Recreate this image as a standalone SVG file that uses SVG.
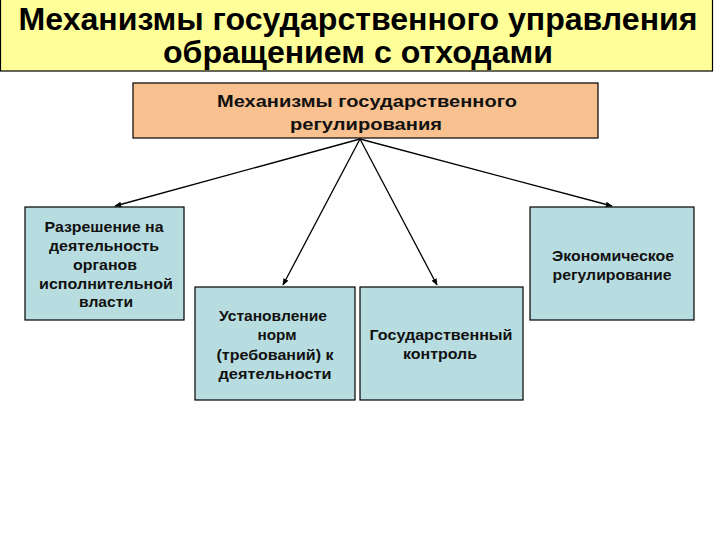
<svg xmlns="http://www.w3.org/2000/svg" width="720" height="540" viewBox="0 0 720 540">
<defs>
<style>
.box{fill:#B8DDE0;stroke:#000;stroke-width:1.2}
.t{font-family:"Liberation Sans",Arial,sans-serif;font-weight:bold;font-size:15px;fill:#111;text-anchor:middle}
.r{font-size:17px}
.ttl{font-family:"Liberation Sans",Arial,sans-serif;font-weight:bold;font-size:31px;fill:#000;text-anchor:middle}
.conn{stroke:#000;stroke-width:1.3;fill:none;marker-end:url(#ah)}
</style>
<marker id="ah" viewBox="0 0 10 10" refX="9" refY="5" markerWidth="7" markerHeight="7" orient="auto" markerUnits="userSpaceOnUse">
<path d="M0,1 L10,5 L0,9 z" fill="#000"/>
</marker>
</defs>
<rect width="720" height="540" fill="#fff"/>
<g id="title">
<rect x="0.5" y="-1" width="712" height="72" fill="#FFFF99" stroke="#000" stroke-width="1.2"/>
<text class="ttl" x="358" y="30" textLength="679" lengthAdjust="spacingAndGlyphs">Механизмы государственного управления</text>
<text class="ttl" x="358" y="63" textLength="390" lengthAdjust="spacingAndGlyphs">обращением с отходами</text>
</g>
<g id="root">
<rect x="133" y="83" width="465" height="55" fill="#F9C18F" stroke="#000" stroke-width="1.2"/>
<text class="t r" x="367" y="107" textLength="300" lengthAdjust="spacingAndGlyphs">Механизмы государственного</text>
<text class="t r" x="366" y="130" textLength="152" lengthAdjust="spacingAndGlyphs">регулирования</text>
</g>
<g id="n1">
<rect class="box" x="25" y="207" width="159" height="113"/>
<text class="t" x="104" y="232" textLength="119" lengthAdjust="spacingAndGlyphs">Разрешение на</text>
<text class="t" x="104" y="251" textLength="110" lengthAdjust="spacingAndGlyphs">деятельность</text>
<text class="t" x="105" y="270" textLength="64" lengthAdjust="spacingAndGlyphs">органов</text>
<text class="t" x="106" y="289" textLength="134" lengthAdjust="spacingAndGlyphs">исполнительной</text>
<text class="t" x="106" y="307" textLength="54" lengthAdjust="spacingAndGlyphs">власти</text>
</g>
<g id="n2">
<rect class="box" x="195" y="287" width="160" height="113"/>
<text class="t" x="273" y="321" textLength="108" lengthAdjust="spacingAndGlyphs">Установление</text>
<text class="t" x="277" y="340" textLength="39" lengthAdjust="spacingAndGlyphs">норм</text>
<text class="t" x="275" y="360" textLength="117" lengthAdjust="spacingAndGlyphs">(требований) к</text>
<text class="t" x="275" y="379" textLength="113" lengthAdjust="spacingAndGlyphs">деятельности</text>
</g>
<g id="n3">
<rect class="box" x="360" y="287" width="163" height="113"/>
<text class="t" x="441" y="340" textLength="143" lengthAdjust="spacingAndGlyphs">Государственный</text>
<text class="t" x="440" y="359" textLength="74" lengthAdjust="spacingAndGlyphs">контроль</text>
</g>
<g id="n4">
<rect class="box" x="530" y="207" width="164" height="113"/>
<text class="t" x="613" y="261" textLength="122" lengthAdjust="spacingAndGlyphs">Экономическое</text>
<text class="t" x="612" y="280" textLength="119" lengthAdjust="spacingAndGlyphs">регулирование</text>
</g>
<g id="connectors">
<line class="conn" x1="360" y1="139" x2="115" y2="206"/>
<line class="conn" x1="360" y1="139" x2="283" y2="285"/>
<line class="conn" x1="360" y1="139" x2="437" y2="285"/>
<line class="conn" x1="360" y1="139" x2="612" y2="206"/>
</g>
</svg>
